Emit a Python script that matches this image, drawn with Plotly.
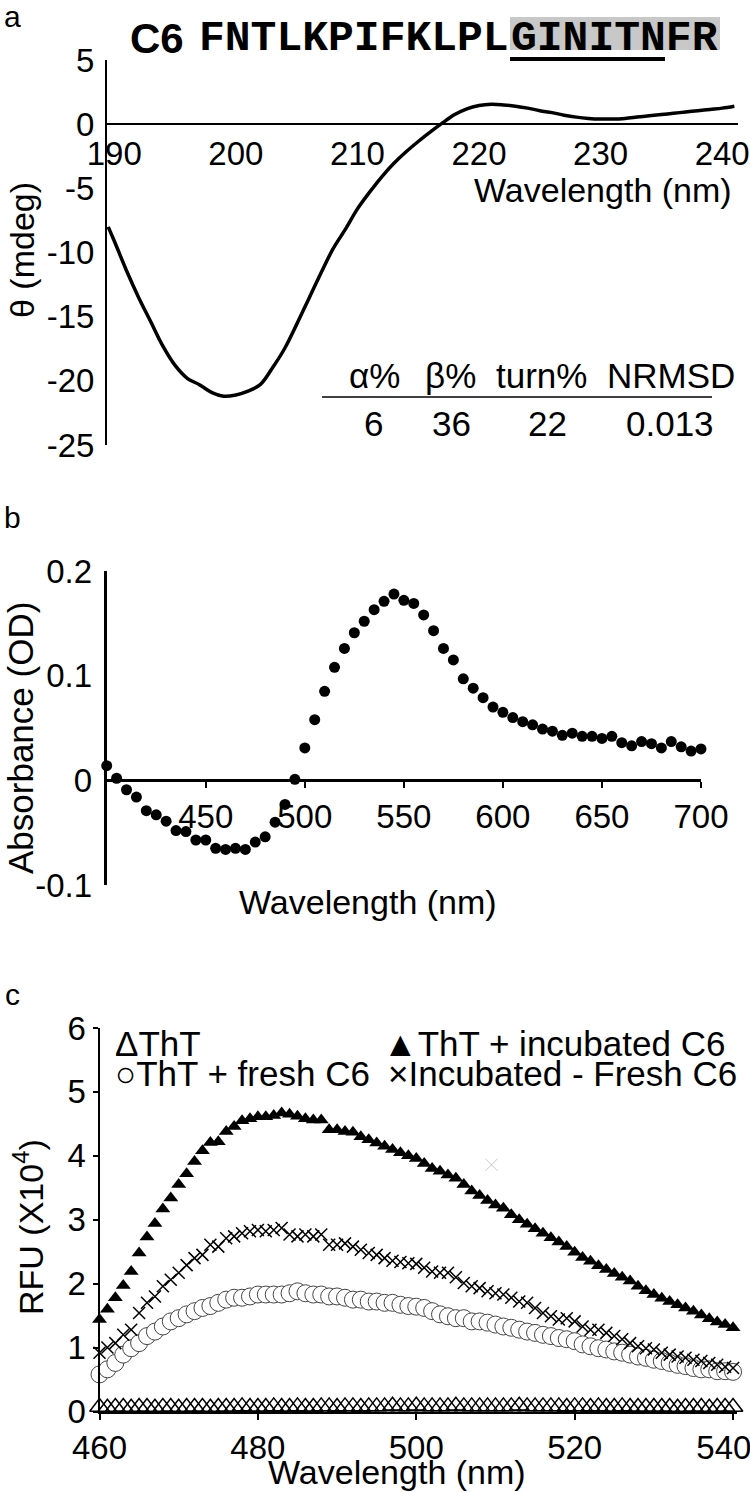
import plotly.graph_objects as go

W, H = 750, 1492

# ---- panel a: CD spectrum of C6 ----
cd_wl = [189.5] + list(range(190, 242))
cd_theta = [-8.0, -9.1, -11.4, -13.5, -15.4, -17.3, -18.8, -19.8, -20.3, -20.9,
            -21.2, -21.1, -20.8, -20.3, -19.0, -17.5, -15.6, -13.6, -11.6, -9.7,
            -8.2, -6.6, -5.3, -4.1, -3.05, -2.15, -1.35, -0.6, 0.1, 0.75,
            1.2, 1.45, 1.55, 1.5, 1.4, 1.25, 1.05, 0.9, 0.7, 0.55,
            0.45, 0.4, 0.4, 0.45, 0.55, 0.65, 0.75, 0.85, 0.95, 1.05,
            1.15, 1.25, 1.4]
a_xticks = [190, 200, 210, 220, 230, 240]
a_yticks = [-25, -20, -15, -10, -5, 0, 5]
a_ylabels = ["-25", "-20", "-15", "-10", "-5", "0", "5"]

seq_plain = "FNTLKPIFKLPL"
seq_marked = "GINITNFR"
table_head = ["α%", "β%", "turn%", "NRMSD"]
table_vals = ["6", "36", "22", "0.013"]

# ---- panel b: absorbance ----
abs_wl = list(range(400, 705, 5))
abs_od = [0.014, 0.002, -0.009, -0.016, -0.029, -0.033, -0.039, -0.048, -0.049, -0.057,
          -0.057, -0.065, -0.066, -0.065, -0.066, -0.059, -0.054, -0.040, -0.023, 0.001,
          0.031, 0.058, 0.085, 0.108, 0.126, 0.141, 0.152, 0.163, 0.171, 0.178,
          0.172, 0.169, 0.158, 0.143, 0.126, 0.115, 0.097, 0.088, 0.079, 0.070,
          0.065, 0.060, 0.056, 0.053, 0.049, 0.047, 0.043, 0.045, 0.042, 0.042,
          0.040, 0.042, 0.036, 0.033, 0.037, 0.035, 0.031, 0.037, 0.032, 0.028,
          0.030]
b_xticks = [450, 500, 550, 600, 650, 700]
b_yticks = [-0.1, 0, 0.1, 0.2]
b_ylabels = ["-0.1", "0", "0.1", "0.2"]

# ---- panel c: ThT fluorescence ----
rfu_wl = list(range(460, 541))
tht = [0.07, 0.06, 0.07, 0.07, 0.06, 0.07, 0.07, 0.06, 0.07, 0.07,
       0.06, 0.07, 0.07, 0.07, 0.06, 0.07, 0.07, 0.07, 0.08, 0.07,
       0.07, 0.07, 0.08, 0.07, 0.07, 0.08, 0.07, 0.07, 0.08, 0.08,
       0.07, 0.08, 0.08, 0.07, 0.08, 0.08, 0.08, 0.09, 0.08, 0.08,
       0.09, 0.08, 0.08, 0.08, 0.08, 0.09, 0.08, 0.08, 0.08, 0.08,
       0.08, 0.08, 0.08, 0.09, 0.08, 0.08, 0.08, 0.08, 0.08, 0.07,
       0.08, 0.08, 0.07, 0.08, 0.07, 0.07, 0.08, 0.07, 0.07, 0.07,
       0.07, 0.07, 0.07, 0.06, 0.07, 0.07, 0.07, 0.06, 0.07, 0.07,
       0.07]
fresh = [0.58, 0.66, 0.76, 0.89, 0.99, 1.07, 1.18, 1.25, 1.33, 1.41,
         1.46, 1.52, 1.57, 1.62, 1.65, 1.70, 1.75, 1.78, 1.78, 1.80,
         1.83, 1.83, 1.83, 1.83, 1.85, 1.88, 1.85, 1.83, 1.83, 1.80,
         1.80, 1.78, 1.75, 1.75, 1.72, 1.72, 1.70, 1.70, 1.67, 1.65,
         1.64, 1.62, 1.57, 1.52, 1.49, 1.46, 1.46, 1.41, 1.41, 1.39,
         1.36, 1.33, 1.31, 1.28, 1.25, 1.23, 1.20, 1.18, 1.15, 1.13,
         1.10, 1.05, 1.02, 0.99, 0.97, 0.94, 0.92, 0.89, 0.86, 0.84,
         0.81, 0.79, 0.76, 0.73, 0.71, 0.68, 0.66, 0.66, 0.63, 0.63,
         0.62]
incubated = [1.44, 1.60, 1.78, 1.97, 2.19, 2.48, 2.73, 2.94, 3.17, 3.34,
             3.55, 3.72, 3.91, 4.08, 4.21, 4.22, 4.38, 4.46, 4.55, 4.58,
             4.61, 4.61, 4.63, 4.67, 4.65, 4.62, 4.58, 4.56, 4.56, 4.41,
             4.41, 4.38, 4.37, 4.30, 4.25, 4.20, 4.15, 4.10, 4.05, 4.00,
             3.96, 3.88, 3.80, 3.76, 3.70, 3.65, 3.55, 3.45, 3.38, 3.30,
             3.23, 3.18, 3.08, 3.00, 2.93, 2.86, 2.79, 2.72, 2.65, 2.58,
             2.49, 2.41, 2.35, 2.28, 2.22, 2.16, 2.10, 2.04, 1.96, 1.89,
             1.83, 1.77, 1.72, 1.67, 1.62, 1.57, 1.51, 1.45, 1.40, 1.36,
             1.31]
difference = [0.92, 1.00, 1.07, 1.20, 1.28, 1.54, 1.70, 1.80, 1.96, 2.06,
              2.17, 2.29, 2.40, 2.45, 2.61, 2.58, 2.71, 2.74, 2.79, 2.82,
              2.84, 2.82, 2.84, 2.87, 2.77, 2.74, 2.77, 2.74, 2.77, 2.61,
              2.61, 2.63, 2.58, 2.53, 2.48, 2.45, 2.40, 2.36, 2.34, 2.32,
              2.31, 2.25, 2.19, 2.17, 2.17, 2.10, 2.01, 1.96, 1.93, 1.88,
              1.85, 1.83, 1.78, 1.72, 1.70, 1.62, 1.54, 1.49, 1.44, 1.46,
              1.41, 1.33, 1.28, 1.28, 1.23, 1.18, 1.13, 1.07, 1.02, 0.99,
              0.97, 0.92, 0.89, 0.86, 0.84, 0.81, 0.79, 0.76, 0.73, 0.70,
              0.68]
stray_wl = [509.5]
stray_rfu = [3.86]
c_xticks = [460, 480, 500, 520, 540]
# last label padded so it stays inside the page, as in the original
c_xlabels = ["460", "480", "500", "520", "540\u00a0\u00a0"]
c_yticks = [0, 1, 2, 3, 4, 5, 6]


def px_x(p):
    return p / W


def px_y(p):
    return 1 - p / H


def dom_y(top, bottom):
    return [px_y(bottom), px_y(top)]


def zero_pos(dom, rng):
    # paper position of y = 0 inside a y-axis domain
    return dom[0] + (0 - rng[0]) / (rng[1] - rng[0]) * (dom[1] - dom[0])


FONT = "Liberation Sans, Arial, sans-serif"
MONO = "Liberation Mono, Courier New, monospace"
tick_font = dict(family=FONT, size=33, color="black")

fig = go.Figure()

fig.add_trace(go.Scatter(x=cd_wl, y=cd_theta, mode="lines",
                         line=dict(color="black", width=3.5, shape="spline"),
                         xaxis="x", yaxis="y"))

fig.add_trace(go.Scatter(x=abs_wl, y=abs_od, mode="markers", cliponaxis=False,
                         marker=dict(color="black", size=11),
                         xaxis="x2", yaxis="y2"))

fig.add_trace(go.Scatter(x=rfu_wl, y=tht, mode="markers", cliponaxis=False,
                         marker=dict(symbol="triangle-up-open", size=17, color="black",
                                     line=dict(width=1.5)),
                         xaxis="x3", yaxis="y3"))
fig.add_trace(go.Scatter(x=rfu_wl, y=fresh, mode="markers", cliponaxis=False,
                         marker=dict(symbol="circle", size=17, color="white",
                                     line=dict(width=1, color="#444444")),
                         xaxis="x3", yaxis="y3"))
fig.add_trace(go.Scatter(x=rfu_wl, y=difference, mode="markers", cliponaxis=False,
                         marker=dict(symbol="x-thin", size=12,
                                     line=dict(width=1.5, color="black")),
                         xaxis="x3", yaxis="y3"))
fig.add_trace(go.Scatter(x=rfu_wl, y=incubated, mode="markers", cliponaxis=False,
                         marker=dict(symbol="triangle-up", size=13, color="black"),
                         xaxis="x3", yaxis="y3"))
fig.add_trace(go.Scatter(x=stray_wl, y=stray_rfu, mode="markers",
                         marker=dict(symbol="x-thin", size=12,
                                     line=dict(width=1, color="#c8c8c8")),
                         xaxis="x3", yaxis="y3"))

a_dom = dom_y(60, 445)
a_rng = [-25, 5]
b_dom = dom_y(571, 885)
b_rng = [-0.1, 0.2]
c_dom = dom_y(1028, 1411.5)

common = dict(showgrid=False, zeroline=False, automargin=False,
              showline=True, linecolor="black", tickfont=tick_font,
              ticklabeloverflow="allow")

fig.update_layout(
    width=W, height=H,
    margin=dict(l=0, r=0, t=0, b=0, autoexpand=False),
    paper_bgcolor="white", plot_bgcolor="white",
    showlegend=False,
    font=dict(family=FONT, color="black"),
    xaxis=dict(domain=[px_x(107), px_x(738)], range=[189.4, 241.3],
               anchor="free", position=zero_pos(a_dom, a_rng),
               linewidth=2, ticks="", tickvals=a_xticks, **common),
    yaxis=dict(domain=a_dom, range=a_rng, anchor="x",
               linewidth=2, ticks="", tickvals=a_yticks, ticktext=a_ylabels,
               ticklabelstandoff=4, **common),
    xaxis2=dict(domain=[px_x(106.7), px_x(701)], range=[400, 700],
                anchor="free", position=zero_pos(b_dom, b_rng),
                linewidth=3, ticks="outside", ticklen=6, tickwidth=2, tickcolor="black",
                tickvals=b_xticks, **common),
    yaxis2=dict(domain=b_dom, range=b_rng, anchor="x2",
                linewidth=3, ticks="", tickvals=b_yticks, ticktext=b_ylabels,
                ticklabelstandoff=5, **common),
    xaxis3=dict(domain=[px_x(99.5), px_x(737)], range=[460, 540.5], anchor="y3",
                linewidth=2, ticks="outside", ticklen=6, tickwidth=1.5, tickcolor="black",
                tickvals=c_xticks, ticktext=c_xlabels, **common),
    yaxis3=dict(domain=c_dom, range=[0, 6], anchor="x3",
                linewidth=2, ticks="outside", ticklen=5, tickwidth=1.5, tickcolor="black",
                tickvals=c_yticks, ticklabelstandoff=0, **common),
)

# header highlight and underline
fig.add_shape(type="rect", xref="paper", yref="paper", layer="below",
              x0=px_x(510), x1=px_x(720), y0=px_y(50), y1=px_y(17),
              fillcolor="#c8c8c8", line=dict(width=0))
fig.add_shape(type="line", xref="paper", yref="paper",
              x0=px_x(510), x1=px_x(665), y0=px_y(59), y1=px_y(59),
              line=dict(color="black", width=4))
# table rule
fig.add_shape(type="line", xref="paper", yref="paper",
              x0=px_x(322), x1=px_x(712), y0=px_y(397), y1=px_y(397),
              line=dict(color="black", width=1.5))


def note(text, x, y, size=34, xanchor="center", angle=0, family=FONT):
    fig.add_annotation(text=text, x=px_x(x), y=px_y(y), xref="paper", yref="paper",
                       showarrow=False, xanchor=xanchor, yanchor="middle",
                       textangle=angle, font=dict(family=family, size=size, color="black"))


note("a", 12, 16, size=30)
note("b", 12, 517, size=30)
note("c", 12, 995, size=30)

note("<b>C6</b>", 128, 38, size=42, xanchor="left")
note("<b>" + seq_plain + "</b>", 511, 38, size=43, xanchor="right", family=MONO)
note("<b>" + seq_marked + "</b>", 509, 38, size=43, xanchor="left", family=MONO)

for txt, cx in zip(table_head, [374, 450, 541, 671]):
    note(txt, cx, 376, size=35)
for txt, cx in zip(table_vals, [373, 451, 547, 670]):
    note(txt, cx, 423, size=35)

note("Wavelength (nm)", 603, 190)
note("θ (mdeg)", 22, 250, angle=-90)
note("Absorbance (OD)", 20, 738, size=35, angle=-90)
note("Wavelength (nm)", 368, 902)
note("RFU (X10<sup>4</sup>)", 28, 1227, angle=-90)
note("Wavelength (nm)", 397, 1472)

note("ΔThT", 113, 1043, size=35, xanchor="left")
note("○ThT + fresh C6", 113, 1073, size=35, xanchor="left")
note("▲ThT + incubated C6", 381, 1043, size=35, xanchor="left")
note("×Incubated - Fresh C6", 386, 1073, size=35, xanchor="left")

# the page's default body margin would shift the figure by 8 px
fig.write_html("out.html", config={"displayModeBar": False},
               post_script="document.body.style.margin = '0';")
